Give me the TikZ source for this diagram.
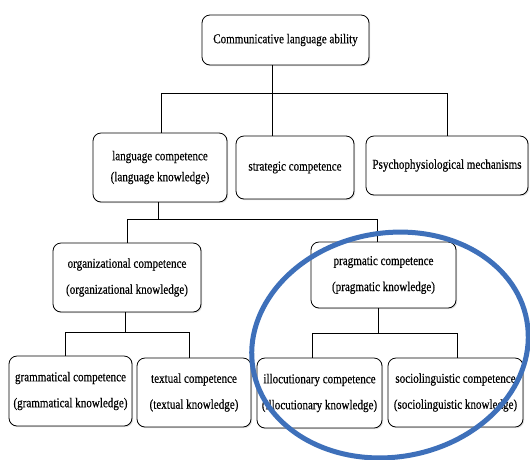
\documentclass[tikz,border=0pt]{standalone}
\usepackage{fontspec}
\setmainfont[FakeStretch=0.82,FakeBold=0.4]{Liberation Serif}
\usetikzlibrary{shadows}
\definecolor{ringblue}{RGB}{62,112,186}
\begin{document}
\begin{tikzpicture}[x=1pt,y=-1pt,
  box/.style={draw=black, line width=0.8pt, rounded corners=8pt, fill=white,
    align=center, inner sep=0pt, font=\fontsize{13.5}{26}\selectfont,
    drop shadow={opacity=0.25, shadow xshift=1.2pt, shadow yshift=-1.2pt}},
  conn/.style={line width=0.9pt, black},
  ring/.style={draw=ringblue, line width=5pt}]
\useasboundingbox (0,0) rectangle (530,459);
\fill[white] (0,0) rectangle (530,459);

% level 1
\node[box, minimum width=167, minimum height=50] (top) at (285.5,40) {Communicative language ability};
% level 2
\node[box, minimum width=134, minimum height=69, font=\fontsize{13.5}{21}\selectfont] (lang) at (160,167.5) {language competence\\(language knowledge)};
\node[box, minimum width=118, minimum height=63] (strat) at (295,167.5) {strategic competence};
\node[box, minimum width=162, minimum height=59] (psy) at (447,165.5) {Psychophysiological mechanisms};
% level 3
\node[box, minimum width=148, minimum height=69] (org) at (127,277.5) {organizational competence\\(organizational knowledge)};
\node[box, minimum width=145, minimum height=66] (prag) at (383.5,275) {pragmatic competence\\(pragmatic knowledge)};
% level 4
\node[box, minimum width=123, minimum height=70] (gram) at (70.5,391) {grammatical competence\\(grammatical knowledge)};
\node[box, minimum width=114, minimum height=69] (text) at (194,392.5) {textual competence\\(textual knowledge)};
\node[box, minimum width=125, minimum height=70] (illoc) at (319.5,393) {illocutionary competence\\(illocutionary knowledge)};
\node[box, minimum width=135, minimum height=69] (socio) at (455.5,392.5) {sociolinguistic competence\\(sociolinguistic knowledge)};

% bus coordinates
\coordinate (b1l) at (161,93);
\coordinate (b1m) at (272,93);
\coordinate (b1r) at (447,93);
\coordinate (b2l) at (127,219);
\coordinate (b2m) at (158,219);
\coordinate (b2r) at (377,219);
\coordinate (b3l) at (65,332);
\coordinate (b3m) at (125,332);
\coordinate (b3r) at (189,332);
\coordinate (b4l) at (312,333);
\coordinate (b4m) at (378,333);
\coordinate (b4r) at (457,333);

% connectors
\draw[conn] (top.south -| b1m) -- (b1m);
\draw[conn] (lang.north -| b1l) |- (b1r) -- (psy.north -| b1r);
\draw[conn] (b1m) -- (strat.north -| b1m);

\draw[conn] (lang.south -| b2m) -- (b2m);
\draw[conn] (org.north -| b2l) |- (b2r) -- (prag.north -| b2r);

\draw[conn] (org.south -| b3m) -- (b3m);
\draw[conn] (gram.north -| b3l) |- (b3r) -- (text.north -| b3r);

\draw[conn] (prag.south -| b4m) -- (b4m);
\draw[conn] (illoc.north -| b4l) |- (b4r) -- (socio.north -| b4r);

% highlight ring
\draw[ring, rotate around={10:(390,345)}] (390,345) ellipse [x radius=139, y radius=112];
\end{tikzpicture}
\end{document}
